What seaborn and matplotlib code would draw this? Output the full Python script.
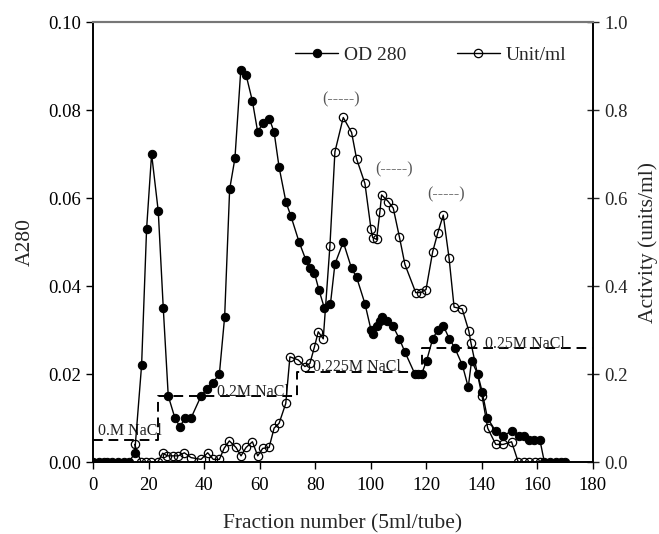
import matplotlib
matplotlib.use("Agg")
import matplotlib.pyplot as plt
import seaborn as sns
import pandas as pd

# OD 280 (filled circles, left axis)
od_frac = [0, 2, 4, 5, 7, 9, 11, 13, 15, 17.5, 19.3, 21.1, 23.5, 25.3, 27.1, 29.5, 31.3, 33.1, 35.3, 38.9,
           41.2, 43.1, 45.5, 47.4, 49.2, 51.1, 53.2, 55.1, 57.4, 59.3, 61.1, 63.5, 65.2, 67, 69.5, 71.2,
           74.2, 76.6, 78.1, 79.7, 81.4, 83.3, 85.5, 87.1, 90.1, 93.1, 94.9, 97.9, 100.1, 100.7, 102.1,
           103.3, 103.9, 105.9, 107.9, 110.3, 112.3, 115.9, 117.1, 118.3, 120.1, 122.3, 124.1, 126.1,
           128.3, 130.2, 133, 135.1, 136.3, 138.5, 140.1, 142, 145, 147.7, 150.7, 153.5, 155.3, 157,
           158.9, 160.9, 162.5, 164.5, 166.6, 168.5, 170]
od_vals = [0, 0, 0, 0, 0, 0, 0, 0, 0.002, 0.022, 0.053, 0.070, 0.057, 0.035, 0.015, 0.010, 0.008, 0.010,
           0.010, 0.015, 0.0167, 0.018, 0.020, 0.033, 0.062, 0.069, 0.089, 0.088, 0.082, 0.075, 0.077,
           0.078, 0.075, 0.067, 0.059, 0.056, 0.050, 0.046, 0.044, 0.043, 0.039, 0.035, 0.036, 0.045,
           0.050, 0.044, 0.042, 0.036, 0.030, 0.029, 0.031, 0.032, 0.033, 0.032, 0.031, 0.028, 0.025,
           0.020, 0.020, 0.020, 0.023, 0.028, 0.030, 0.031, 0.028, 0.026, 0.022, 0.017, 0.023, 0.020,
           0.016, 0.010, 0.007, 0.006, 0.007, 0.006, 0.006, 0.005, 0.005, 0.005, 0, 0, 0, 0, 0]

# Unit/ml (open circles, right axis)
act_frac = [15, 17.3, 19.1, 20.9, 23.3, 25.1, 26.8, 28.7, 30.7, 32.9, 35.3, 38.9, 41.3, 43.3, 45.5,
            47.2, 49.1, 51.5, 53.3, 55.1, 57.4, 59.3, 61.1, 63.4, 65.2, 67, 69.4, 70.9, 73.9, 76.3,
            78.1, 79.7, 81.1, 82.9, 85.3, 87.1, 90.1, 93.1, 94.9, 97.9, 100.1, 100.7, 102.1, 103.3,
            103.9, 106.3, 108.1, 110.3, 112.3, 116.2, 118, 119.9, 122.3, 124.1, 126.1, 128.2, 130,
            132.9, 135.3, 136.1, 140.1, 142.1, 145, 147.7, 150.7, 153.1, 155, 157, 159, 161]
act_vals = [0.040, 0, 0, 0, 0, 0.020, 0.014, 0.014, 0.014, 0.021, 0.010, 0.006, 0.021, 0.006, 0.006,
            0.031, 0.048, 0.033, 0.014, 0.033, 0.046, 0.014, 0.031, 0.033, 0.077, 0.088, 0.133, 0.239,
            0.232, 0.217, 0.224, 0.261, 0.296, 0.280, 0.491, 0.705, 0.783, 0.749, 0.689, 0.633, 0.529,
            0.510, 0.506, 0.569, 0.607, 0.592, 0.577, 0.512, 0.449, 0.385, 0.385, 0.392, 0.478, 0.520,
            0.561, 0.463, 0.352, 0.348, 0.298, 0.270, 0.149, 0.077, 0.040, 0.040, 0.046, 0, 0, 0, 0, 0]

# NaCl step gradient (on A280 scale)
salt_start = [0, 23.3, 73.3, 118.3, 180]
salt_level = [0.005, 0.015, 0.0205, 0.0258, 0.0258]
salt_labels = ["0.M NaCl", "0.2M NaCl", "0.225M NaCl", "0.25M NaCl"]
salt_label_x = [1.8, 44.5, 79.3, 141]
salt_label_y = [0.0062, 0.0151, 0.0206, 0.0259]

# active peak markers
peak_x = [89.2, 108.5, 127.1]
peak_y = [0.0825, 0.0665, 0.0609]

od = pd.DataFrame({"frac": od_frac, "od": od_vals})
act = pd.DataFrame({"frac": act_frac, "act": act_vals})

sns.set_style("ticks")
plt.rcParams["font.family"] = ["Liberation Serif", "DejaVu Serif"]
plt.rcParams["font.size"] = 12

fig = plt.figure(figsize=(6.59, 5.34), dpi=100)
ax = fig.add_axes([0.1411, 0.1348, 0.7587, 0.824])
ax2 = ax.twinx()

# salt gradient
ax.step(salt_start, salt_level, where="post", color="black", lw=1.4, linestyle=(0, (5, 3)), zorder=1)
for lab, lx, ly in zip(salt_labels, salt_label_x, salt_label_y):
    ax.text(lx, ly, lab, fontsize=11.5, ha="left", va="baseline", color="#222222")

sns.lineplot(data=od, x="frac", y="od", ax=ax, color="black", lw=1, marker="o", markersize=6,
             markeredgecolor="black", markerfacecolor="black", sort=False, estimator=None,
             label="OD 280", legend=False, zorder=3)
sns.lineplot(data=act, x="frac", y="act", ax=ax2, color="black", lw=1, marker="o", markersize=6,
             markeredgecolor="black", markerfacecolor="none", markeredgewidth=0.9, sort=False,
             estimator=None, label="Unit/ml", legend=False, zorder=3)

for px, py in zip(peak_x, peak_y):
    ax.text(px, py, "(-----)", fontsize=11.5, ha="center", va="center", color="#555555")

ax.set_xlim(0, 180)
ax.set_ylim(0, 0.10)
ax2.set_ylim(0, 1.0)
ax.set_xticks(range(0, 181, 20))
ax.set_yticks([0, 0.02, 0.04, 0.06, 0.08, 0.10])
ax.set_yticklabels(["0.00", "0.02", "0.04", "0.06", "0.08", "0.10"])
ax2.set_yticks([0, 0.2, 0.4, 0.6, 0.8, 1.0])
ax2.set_yticklabels(["0.0", "0.2", "0.4", "0.6", "0.8", "1.0"])

ax.set_xlabel("Fraction number (5ml/tube)", fontsize=15.5, labelpad=14)
ax.set_ylabel("A280", fontsize=15.5, labelpad=10)
ax2.set_ylabel("Activity (units/ml)", fontsize=15.5, labelpad=8)

ax.tick_params(axis="both", direction="out", length=5, width=1, labelsize=13.5, colors="black")
ax.tick_params(axis="x", pad=6)
ax2.tick_params(axis="y", direction="inout", length=9, width=1, labelsize=13.5)

for a in (ax, ax2):
    for s in ["left", "right", "bottom"]:
        a.spines[s].set_color("black")
        a.spines[s].set_linewidth(1.2)
    a.spines["top"].set_color("#777777")
    a.spines["top"].set_linewidth(1.5)
    a.spines["top"].set_visible(True)
    a.spines["right"].set_visible(True)

h1, l1 = ax.get_legend_handles_labels()
h2, l2 = ax2.get_legend_handles_labels()
ax2.legend(h1 + h2, l1 + l2, ncol=2, frameon=False, loc="center left", bbox_to_anchor=(0.405, 0.925),
           fontsize=14, handlelength=2.2, handletextpad=0.3, columnspacing=2.6, borderaxespad=0,
           borderpad=0)

fig.savefig("out.png", dpi=100)
